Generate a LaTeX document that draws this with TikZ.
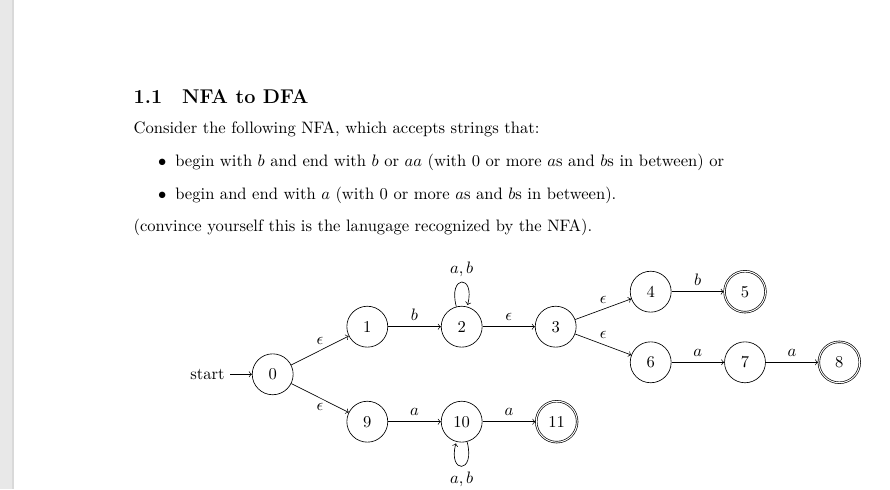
\documentclass[tikz,border=0pt]{standalone}
\usetikzlibrary{automata}
\begin{document}
\begin{tikzpicture}[x=0.6035pt,y=0.6035pt,>=to,
  st/.style={state,minimum size=24.7pt,inner sep=1pt},
  txt/.style={anchor=base west,inner sep=0pt},
  lab/.style={inner sep=0.333em}]
\useasboundingbox (0,0) rectangle (890,489);
\fill[white] (0,0) rectangle (890,489);
\fill[gray!18] (0,0) rectangle (12,489);
\fill[gray!30] (12,0) rectangle (13.5,489);

% text
\node[txt,font=\large\bfseries] (title) at (133.3,385.7) {1.1\quad NFA to DFA};
\node[txt] (p1) at (133.3,355.7) {Consider the following NFA, which accepts strings that:};
\node[txt] (i1) at (175,322.3) {begin with $b$ and end with $b$ or $aa$ (with 0 or more $a$s and $b$s in between) or};
\node[anchor=base east,inner sep=0pt] (b1) at ([xshift=-5pt]i1.base west) {$\bullet$};
\node[txt] (i2) at (175,289.7) {begin and end with $a$ (with 0 or more $a$s and $b$s in between).};
\node[anchor=base east,inner sep=0pt] (b2) at ([xshift=-5pt]i2.base west) {$\bullet$};
\node[txt] (p2) at (133.3,257) {(convince yourself this is the lanugage recognized by the NFA).};

% automaton
\node[st,initial,initial text=start] (q0) at (272.7,114.7) {0};
\node[st] (q1) at (367.3,162.3) {1};
\node[st] (q2) at (461.7,162.3) {2};
\node[st] (q3) at (555.7,162.3) {3};
\node[st] (q4) at (650.7,197.3) {4};
\node[st,accepting] (q5) at (745,197.3) {5};
\node[st] (q6) at (650.7,126.7) {6};
\node[st] (q7) at (745,126.7) {7};
\node[st,accepting] (q8) at (839.3,126.7) {8};
\node[st] (q9) at (367.3,67.3) {9};
\node[st] (q10) at (461.7,67.3) {10};
\node[st,accepting] (q11) at (556.7,67.3) {11};

\path[->]
  (q0) edge node[lab,above] (e01) {$\epsilon$} (q1)
  (q1) edge node[lab,above] (e12) {$b$} (q2)
  (q2) edge[loop above] node[lab,above] (e22) {$a,b$} ()
  (q2) edge node[lab,above] (e23) {$\epsilon$} (q3)
  (q3) edge node[lab,above] (e34) {$\epsilon$} (q4)
  (q4) edge node[lab,above] (e45) {$b$} (q5)
  (q3) edge node[lab,above] (e36) {$\epsilon$} (q6)
  (q6) edge node[lab,above] (e67) {$a$} (q7)
  (q7) edge node[lab,above] (e78) {$a$} (q8)
  (q0) edge node[lab,below] (e09) {$\epsilon$} (q9)
  (q9) edge node[lab,above] (e910) {$a$} (q10)
  (q10) edge node[lab,above] (e1011) {$a$} (q11)
  (q10) edge[loop below] node[lab,below] (e1010) {$a,b$} ();
\end{tikzpicture}
\end{document}
